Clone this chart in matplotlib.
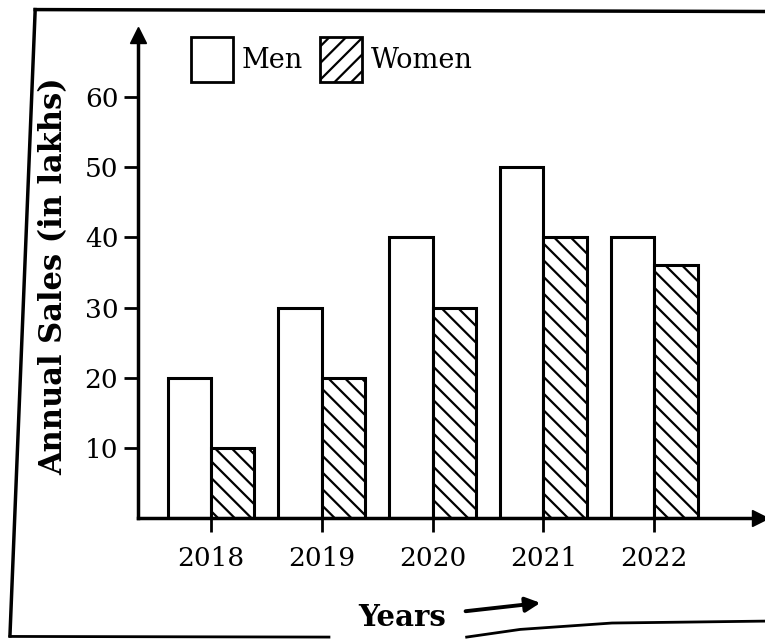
import numpy as np
import matplotlib.pyplot as plt
from matplotlib.patches import Patch
from matplotlib.lines import Line2D

#Chart data (Annual sales in lakhs)
years = ['2018', '2019', '2020', '2021', '2022']
men = [20, 30, 40, 50, 40]
women = [10, 20, 30, 40, 36]
yticks = [10, 20, 30, 40, 50, 60]

plt.rcParams['font.family'] = ['DejaVu Serif']
plt.rcParams['hatch.linewidth'] = 1.6

fig = plt.figure(figsize=(7.65, 6.39), dpi=100)
ax = fig.add_axes([0.180, 0.189, 0.813, 0.756])

x = np.arange(len(years))
w = 0.39
ax.bar(x - w/2, men, w, color='white', edgecolor='black', linewidth=2.2)
ax.bar(x + w/2, women, w, color='white', edgecolor='black', linewidth=2.2, hatch='\\\\')

ax.set_xlim(-0.66, 4.95)
ax.set_ylim(0, 68.8)

#axes with arrows
for s in ['top', 'right']:
    ax.spines[s].set_visible(False)
for s in ['left', 'bottom']:
    ax.spines[s].set_linewidth(2.5)
ax.plot(0, 1, marker='^', color='black', markersize=11, transform=ax.transAxes, clip_on=False)
ax.plot(1, 0, marker='>', color='black', markersize=11, transform=ax.transAxes, clip_on=False)

ax.set_xticks(x)
ax.set_xticklabels(years, fontsize=19)
ax.set_yticks(yticks)
ax.set_yticklabels([str(v) for v in yticks], fontsize=19)
ax.tick_params(axis='both', direction='out', length=10, width=2, colors='black')
ax.tick_params(axis='x', pad=10)
ax.tick_params(axis='y', pad=4)

ax.set_ylabel('Annual Sales (in lakhs)', fontsize=22, fontweight='bold', labelpad=11)

#x label with arrow
fig.text(0.468, 0.033, 'Years', fontsize=21, fontweight='bold', ha='left', va='center')
ax.annotate('', xy=(0.71, 0.057), xytext=(0.605, 0.043), xycoords='figure fraction',
            arrowprops=dict(arrowstyle='-|>', color='black', lw=2.8, mutation_scale=22))

handles = [Patch(facecolor='white', edgecolor='black', linewidth=2, label='Men'),
           Patch(facecolor='white', edgecolor='black', linewidth=2, hatch='//', label='Women')]
ax.legend(handles=handles, loc='upper left', bbox_to_anchor=(0.085, 0.996), ncol=2,
          frameon=False, fontsize=19.5, handlelength=1.55, handleheight=2.2,
          handletextpad=0.35, columnspacing=0.6, borderpad=0, borderaxespad=0)

#scan frame
fig.add_artist(Line2D([0.046, 1.0], [0.985, 0.982], color='black', lw=2.5, transform=fig.transFigure))
fig.add_artist(Line2D([0.046, 0.013], [0.985, 0.005], color='black', lw=2.5, transform=fig.transFigure))
fig.add_artist(Line2D([0.013, 0.43], [0.004, 0.003], color='black', lw=2.0, transform=fig.transFigure))
fig.add_artist(Line2D([0.61, 0.68, 0.80, 1.0], [0.003, 0.015, 0.025, 0.028], color='black', lw=2.0,
                      transform=fig.transFigure))

fig.savefig('out.png', dpi=100)
